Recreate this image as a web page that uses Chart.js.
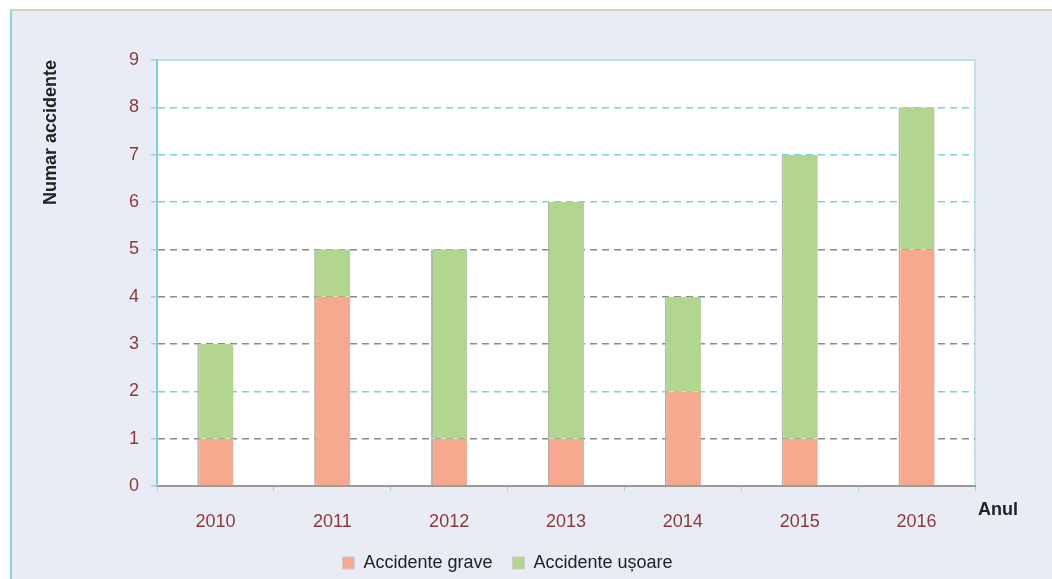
<!DOCTYPE html>
<html>
<head>
<meta charset="utf-8">
<script src="https://cdn.jsdelivr.net/npm/chart.js@4.4.1/dist/chart.umd.min.js"></script>
<style>
  html, body { margin: 0; padding: 0; background: #fff; }
  #wrap { position: relative; width: 1052px; height: 579px; overflow: hidden; }
  #frame {
    position: absolute; left: 10px; top: 9px; width: 1100px; height: 700px;
    background: #e9ecf4; border-left: 2px solid #8fd3df; border-top: 2px solid #cfd3c6;
  }
  #chart { position: absolute; left: 0; top: 0; }
</style>
</head>
<body>
<div id="wrap">
  <div id="frame"></div>
  <canvas id="chart" width="1052" height="579"></canvas>
</div>
<script>
// ==== date ====
const years   = ["2010", "2011", "2012", "2013", "2014", "2015", "2016"];
const grave   = [1, 4, 1, 1, 2, 1, 5];
const usoare  = [2, 1, 4, 5, 2, 6, 3];
const yTicks  = [0, 1, 2, 3, 4, 5, 6, 7, 8, 9];
const cyanLines = [2, 6, 7, 8];   // liniile punctate albastre, restul gri

const FONT = "'Liberation Sans', Arial, sans-serif";
const LABEL_COLOR = "#8b3a3a";

// fundal alb in zona graficului + chenar subtire
const plotBg = {
  id: "plotBg",
  beforeDraw(chart) {
    const { ctx, chartArea: a } = chart;
    ctx.save();
    ctx.fillStyle = "#fff";
    ctx.fillRect(a.left, a.top, a.right - a.left, a.bottom - a.top);
    ctx.strokeStyle = "#bfe3ea";
    ctx.lineWidth = 2;
    ctx.strokeRect(a.left, a.top, a.right - a.left, a.bottom - a.top);
    ctx.restore();
  }
};

// eticheta "Anul" la capatul axei X
const anulLabel = {
  id: "anulLabel",
  afterDraw(chart) {
    const { ctx, chartArea: a } = chart;
    ctx.save();
    ctx.font = "bold 18px " + FONT;
    ctx.fillStyle = "#222";
    ctx.textAlign = "left";
    ctx.textBaseline = "middle";
    ctx.fillText("Anul", a.right + 3, a.bottom + 24);
    ctx.restore();
  }
};

new Chart(document.getElementById("chart"), {
  type: "bar",
  data: {
    labels: years,
    datasets: [
      {
        label: "Accidente grave",
        data: grave,
        backgroundColor: "#f7a990",
        borderColor: "#b8b0ac",
        borderWidth: { left: 2, top: 0, right: 0, bottom: 0 },
        borderSkipped: false
      },
      {
        label: "Accidente ușoare",
        data: usoare,
        backgroundColor: "#b2d58f",
        borderColor: "#b4b8ae",
        borderWidth: { left: 2, top: 0, right: 0, bottom: 0 },
        borderSkipped: false
      }
    ]
  },
  options: {
    responsive: false,
    animation: false,
    layout: { padding: { left: 40, right: 77, top: 60, bottom: -3 } },
    datasets: { bar: { categoryPercentage: 1, barPercentage: 0.31 } },
    scales: {
      x: {
        stacked: true,
        border: { display: true, color: "#9a9a9a", width: 2 },
        grid: { drawOnChartArea: false, drawTicks: true, tickLength: 5, color: "#9fd6de" },
        ticks: { color: LABEL_COLOR, font: { family: FONT, size: 18 }, padding: 20 },
        afterFit(s) { s.height = 48; }
      },
      y: {
        stacked: true,
        min: 0, max: 9,
        afterBuildTicks(s) { s.ticks = yTicks.map(v => ({ value: v })); },
        border: { display: true, color: "#7fd0de", width: 2, dash: [7, 5] },
        grid: {
          drawTicks: true,
          tickLength: 6,
          lineWidth: 1.5,
          tickColor: "#9fd6de",
          color: c => cyanLines.includes(c.tick.value) ? "#7ccfdc" : (c.tick.value === 0 || c.tick.value === 9 ? "rgba(0,0,0,0)" : "#8a8a8a")
        },
        ticks: { color: LABEL_COLOR, font: { family: FONT, size: 18 }, padding: 12 },
        title: {
          display: true,
          text: "Numar accidente",
          align: "end",
          color: "#222",
          font: { family: FONT, size: 18, weight: "bold" },
          padding: { top: 0, bottom: 0 }
        },
        afterFit(s) { s.width = 117; }
      }
    },
    plugins: {
      legend: {
        position: "bottom",
        labels: {
          color: "#222",
          font: { family: FONT, size: 18 },
          boxWidth: 12, boxHeight: 12,
          padding: 20,
          generateLabels(chart) {
            return chart.data.datasets.map((d, i) => ({
              text: d.label, fillStyle: d.backgroundColor, strokeStyle: "#ccc",
              lineWidth: 1, datasetIndex: i, fontColor: "#222"
            }));
          }
        }
      },
      tooltip: { enabled: false }
    }
  },
  plugins: [plotBg, anulLabel]
});
</script>
</body>
</html>
